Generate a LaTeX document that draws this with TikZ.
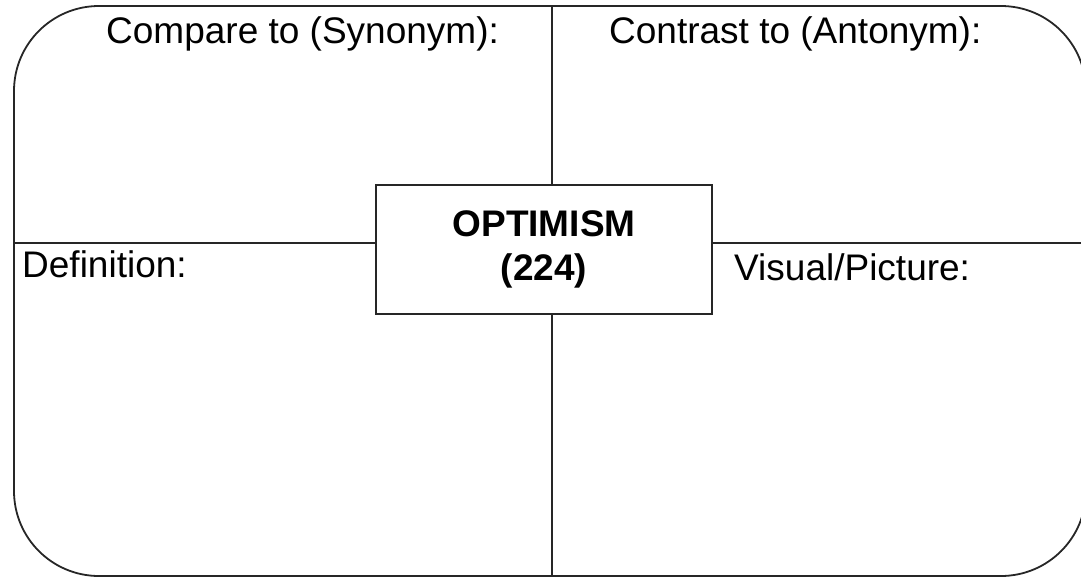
\documentclass[tikz,border=0pt]{standalone}
\usepackage{fontspec}
\setmainfont{Liberation Sans}
\begin{document}
\begin{tikzpicture}[x=1pt, y=-1pt,
  rule/.style={line width=1.8pt, draw=black!85},
  label/.style={anchor=base west, inner sep=0pt, font=\fontsize{37}{44}\selectfont},
  wordbox/.style={rule, rectangle, minimum width=336pt, minimum height=129pt, inner sep=0pt,
    align=center, font=\fontsize{37}{44}\selectfont\bfseries}]
  \useasboundingbox (0,0) rectangle (1081,578);

  % outer rounded frame
  \node[rule, rectangle, rounded corners=85pt, minimum width=1072pt, minimum height=570pt,
        inner sep=0pt] (frame) at (550,291) {};

  % central word box
  \node[wordbox] (word) at (544,249.5) {OPTIMISM\\[0pt](224)};

  % quadrant dividers
  \coordinate (vtop) at (552,6);
  \coordinate (vbot) at (552,576);
  \coordinate (hleft) at (14,243);
  \coordinate (hright) at (1086,243);
  \draw[rule] (vtop) -- (vtop |- word.north);
  \draw[rule] (vbot |- word.south) -- (vbot);
  \draw[rule] (hleft) -- (hleft -| word.west);
  \draw[rule] (word.east |- hright) -- (hright);

  % quadrant headings
  \node[label] (syn) at (106,44) {Compare to (Synonym):};
  \node[label] (ant) at (609,44) {Contrast to (Antonym):};
  \node[label] (def) at (22,277) {Definition:};
  \node[label] (vis) at (734,280) {Visual/Picture:};
\end{tikzpicture}
\end{document}
